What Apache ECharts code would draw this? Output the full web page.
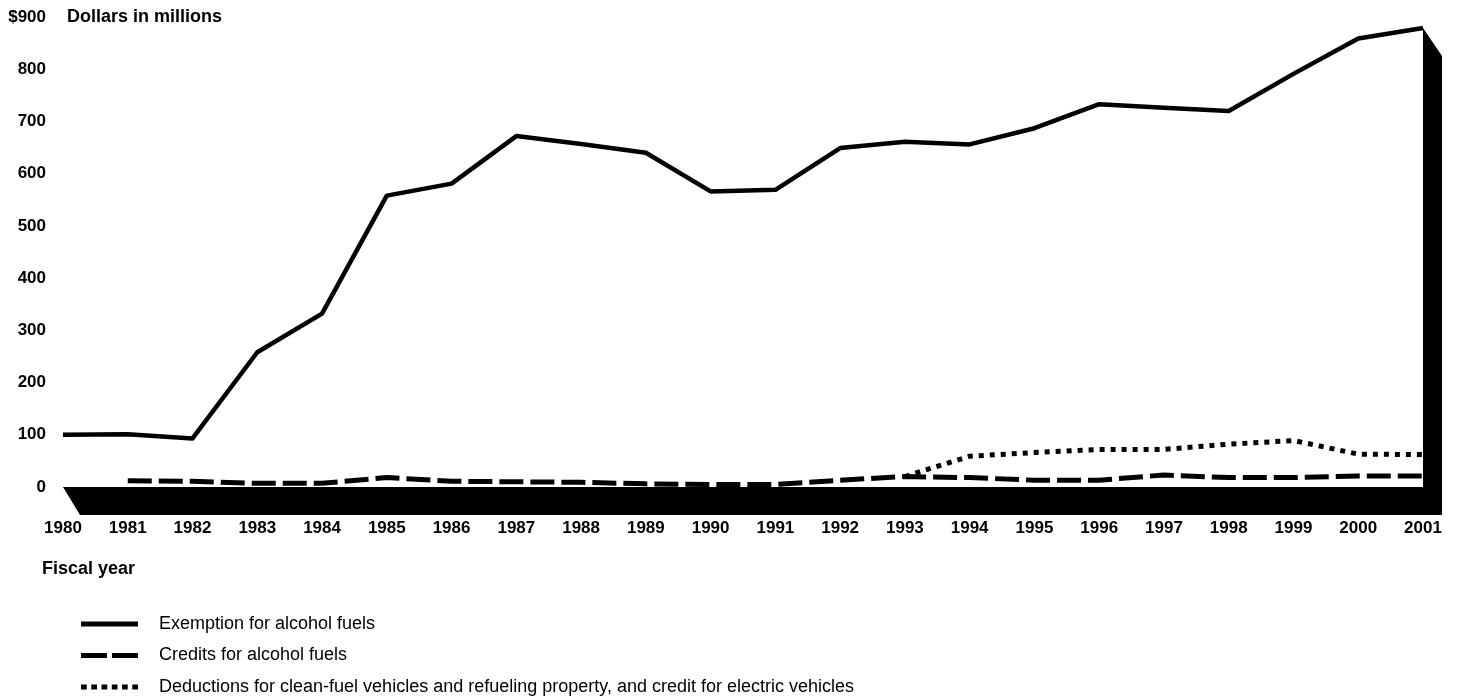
<!DOCTYPE html>
<html><head><meta charset="utf-8">
<script src="https://cdn.jsdelivr.net/npm/echarts@6/dist/echarts.min.js"></script>
<style>html,body{margin:0;padding:0;background:#fff}#c{width:1459px;height:698px}</style>
</head><body><div id="c"></div>
<script>
const years = ['1980','1981','1982','1983','1984','1985','1986','1987','1988','1989','1990','1991','1992','1993','1994','1995','1996','1997','1998','1999','2000','2001'];
const exemption = [100,101,93,258,332,558,581,672,657,640,566,569,649,661,656,687,733,726,720,791,859,879];
const credits = [null,12,11,7,7,18,11,10,9,6,5,5,13,20,18,13,13,23,18,18,21,21];
const deductions = [null,null,null,null,null,null,null,null,null,null,null,null,null,20,59,66,72,72,82,89,63,62];
const seriesNames = ['Exemption for alcohol fuels','Credits for alcohol fuels','Deductions for clean-fuel vehicles and refueling property, and credit for electric vehicles'];
const yAxisTitle = 'Dollars in millions';
const xAxisTitle = 'Fiscal year';

const FONT = "'Liberation Sans', Arial, Helvetica, sans-serif";
const chart = echarts.init(document.getElementById('c'));
const DX = 19, DY = 28;

const ICON_SOLID = 'path://M0,0L57,0L57,5L0,5Z';
const ICON_DASH = 'path://M0,0L26,0L26,5L0,5Z M31,0L57,0L57,5L31,5Z';
const ICON_DOT = 'path://M0,0L5.7,0L5.7,5L0,5Z M10.26,0L15.96,0L15.96,5L10.26,5Z M20.52,0L26.22,0L26.22,5L20.52,5Z M30.78,0L36.48,0L36.48,5L30.78,5Z M41.04,0L46.74,0L46.74,5L41.04,5Z M51.3,0L57,0L57,5L51.3,5Z';

chart.setOption({
  animation: false,
  backgroundColor: '#fff',
  textStyle: { fontFamily: FONT, color: '#000' },
  grid: { left: 63, right: 36, top: 17, bottom: 211, containLabel: false },
  xAxis: {
    type: 'category', data: years, boundaryGap: false,
    axisLine: { show: false }, axisTick: { show: false }, splitLine: { show: false },
    axisLabel: { color: '#000', fontWeight: 'bold', fontSize: 17, margin: 33, fontFamily: FONT }
  },
  yAxis: {
    type: 'value', min: 0, max: 900, interval: 100,
    axisLine: { show: false }, axisTick: { show: false }, splitLine: { show: false },
    axisLabel: { color: '#000', fontWeight: 'bold', fontSize: 17, margin: 17, fontFamily: FONT,
      formatter: v => v === 900 ? '$900' : String(v) }
  },
  legend: {
    orient: 'vertical', left: 81, top: 613.5, height: 120, padding: 0, itemWidth: 57, itemHeight: 21, itemGap: 10.5,
    selectedMode: false,
    textStyle: { color: '#000', fontSize: 18, lineHeight: 21, fontFamily: FONT, padding: [0, 0, 0, 16] },
    data: [
      { name: seriesNames[0], icon: ICON_SOLID, itemStyle: { color: '#000' } },
      { name: seriesNames[1], icon: ICON_DASH, itemStyle: { color: '#000' } },
      { name: seriesNames[2], icon: ICON_DOT, itemStyle: { color: '#000' } }
    ]
  },
  graphic: [
    { type: 'text', left: 67, top: 8, style: { text: yAxisTitle, font: "bold 18px " + FONT, fill: '#000' } },
    { type: 'text', left: 42, top: 560, style: { text: xAxisTitle, font: "bold 18px " + FONT, fill: '#000' } }
  ],
  series: [
    {
      type: 'custom', name: 'floor', silent: true, z: 1, clip: false,
      data: [[0, 0]],
      renderItem: function (params, api) {
        const last = years.length - 1;
        const p0 = api.coord([0, 0]);
        const p1 = api.coord([last, 0]);
        const pt = api.coord([last, exemption[last]]);
        return {
          type: 'polygon',
          shape: { points: [
            [p0[0], p0[1]], [p1[0], p1[1]], [p1[0], pt[1]], [p1[0] + DX, pt[1] + DY],
            [p1[0] + DX, p1[1] + DY], [p0[0] + 17, p0[1] + DY]
          ] },
          style: { fill: '#000', stroke: null }
        };
      }
    },
    {
      type: 'line', name: seriesNames[0], data: exemption, symbol: 'none', z: 3,
      itemStyle: { color: '#000' },
      lineStyle: { color: '#000', width: 4.5, join: 'round' }
    },
    {
      type: 'line', name: seriesNames[1], data: credits, symbol: 'none', z: 3,
      itemStyle: { color: '#000' },
      lineStyle: { color: '#000', width: 5, type: [24, 7], cap: 'butt' }
    },
    {
      type: 'line', name: seriesNames[2], data: deductions, symbol: 'none', z: 3,
      itemStyle: { color: '#000' },
      lineStyle: { color: '#000', width: 5, type: [5, 6], cap: 'butt' }
    }
  ]
});
</script></body></html>
